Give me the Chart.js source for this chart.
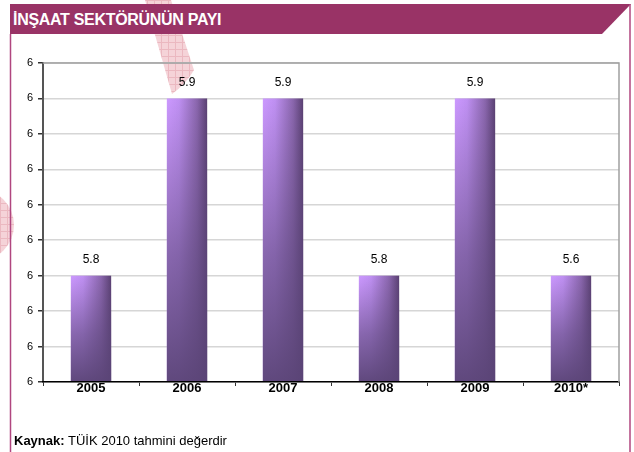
<!DOCTYPE html>
<html>
<head>
<meta charset="utf-8">
<script src="https://cdn.jsdelivr.net/npm/chart.js@4.4.1/dist/chart.umd.min.js"></script>
<style>
  body{margin:0;background:#fff;font-family:"Liberation Sans",Arial,sans-serif;}
  #wrap{position:relative;width:634px;height:452px;overflow:hidden;}
  #deco{position:absolute;left:0;top:0;}
  #c{position:absolute;left:0;top:0;}
  .title{position:absolute;left:13px;top:8px;color:#fff;font-weight:bold;font-size:16px;line-height:24px;letter-spacing:-0.3px;}
  .note{position:absolute;left:14px;top:433px;font-size:13px;line-height:15px;color:#000;}
</style>
</head>
<body>
<div id="wrap">
<svg id="deco" width="634" height="452">
  <defs>
    <pattern id="hatch" width="7" height="7" patternUnits="userSpaceOnUse">
      <rect width="7" height="7" fill="#f5d3d8"/>
      <path d="M0 0.5H7M0.5 0V7" stroke="#ebb8c0" stroke-width="1"/>
    </pattern>
  </defs>
  <path d="M145 0 L171 0 L194 70 Q186 84 172 94 Z" fill="url(#hatch)"/>
  <circle cx="-22" cy="225" r="36" fill="url(#hatch)"/>
  <polygon points="10,4 631,4 602,34 10,34" fill="#993366"/>
  <line x1="10.5" y1="34" x2="10.5" y2="452" stroke="#b0467f" stroke-width="1.5"/>
  <line x1="630" y1="4" x2="630" y2="452" stroke="#b0467f" stroke-width="1.5"/>
</svg>
<div class="title">İNŞAAT SEKTÖRÜNÜN PAYI</div>
<canvas id="c" width="634" height="452"></canvas>
<div class="note"><b>Kaynak:</b> TÜİK 2010 tahmini değerdir</div>
</div>
<script>
var years=['2005','2006','2007','2008','2009','2010*'];
var barHeights=[5.8,5.9,5.9,5.8,5.9,5.8];
var valueLabels=['5.8','5.9','5.9','5.8','5.9','5.6'];
var yTicks=[5.74,5.76,5.78,5.80,5.82,5.84,5.86,5.88,5.90,5.92];
var yTickLabels=['6','6','6','6','6','6','6','6','6','6'];

// shaded bars + value labels on top
var barLook={
  id:'barLook',
  afterDatasetsDraw:function(chart){
    var ctx=chart.ctx;
    var meta=chart.getDatasetMeta(0);
    var bottom=chart.chartArea.bottom;
    ctx.save();
    meta.data.forEach(function(bar,i){
      var p=bar.getProps(['x','y','width'],true);
      var left=p.x-p.width/2;
      var h=bottom-p.y;
      var hg=ctx.createLinearGradient(left,0,left+p.width,0);
      hg.addColorStop(0,'#cc99ff');
      hg.addColorStop(0.3,'#bf90f2');
      hg.addColorStop(0.75,'#8a66ad');
      hg.addColorStop(1,'#5a4072');
      ctx.fillStyle=hg;
      ctx.fillRect(left,p.y,p.width,h);
      var vg=ctx.createLinearGradient(0,p.y,0,bottom);
      vg.addColorStop(0,'rgba(92,70,122,0)');
      vg.addColorStop(0.55,'rgba(92,70,122,0.6)');
      vg.addColorStop(1,'rgba(90,68,118,0.95)');
      ctx.fillStyle=vg;
      ctx.fillRect(left,p.y,p.width,h);
      ctx.fillStyle='#000';
      ctx.font='12px "Liberation Sans", Arial, sans-serif';
      ctx.textAlign='center';
      ctx.textBaseline='middle';
      ctx.fillText(valueLabels[i],p.x,p.y-16);
    });
    ctx.restore();
  },
  afterDraw:function(chart){
    var a=chart.chartArea, ctx=chart.ctx;
    ctx.save();
    ctx.strokeStyle='#a0a0a0';
    ctx.lineWidth=1.5;
    ctx.beginPath();
    ctx.moveTo(a.left,a.top);
    ctx.lineTo(a.right,a.top);
    ctx.lineTo(a.right,a.bottom);
    ctx.stroke();
    ctx.restore();
  }
};

new Chart(document.getElementById('c'),{
  type:'bar',
  data:{
    labels:years,
    datasets:[{data:barHeights,backgroundColor:'rgba(0,0,0,0)',barPercentage:0.42,categoryPercentage:1}]
  },
  options:{
    responsive:false,
    animation:false,
    layout:{padding:{left:13,right:15,top:63,bottom:50}},
    plugins:{legend:{display:false},tooltip:{enabled:false}},
    scales:{
      x:{
        afterFit:function(s){s.height=20;},
        grid:{drawOnChartArea:false,offset:true,tickLength:4,tickColor:'#333',lineWidth:1},
        border:{color:'#000',width:1.5,z:1},
        ticks:{z:1,color:'#000',padding:-5,font:{family:'"Liberation Sans", Arial',size:13,weight:'bold'}}
      },
      y:{
        min:5.74,max:5.92,
        afterFit:function(s){s.width=30;},
        afterBuildTicks:function(s){s.ticks=yTicks.map(function(v){return {value:v};});},
        grid:{color:'#d6d6d6',lineWidth:1.5,tickLength:5,tickColor:'#333'},
        border:{color:'#555',width:2},
        ticks:{color:'#000',padding:5,font:{family:'"Liberation Sans", Arial',size:11},
          callback:function(v,i){return yTickLabels[i];}}
      }
    }
  },
  plugins:[barLook]
});
</script>
</body>
</html>
